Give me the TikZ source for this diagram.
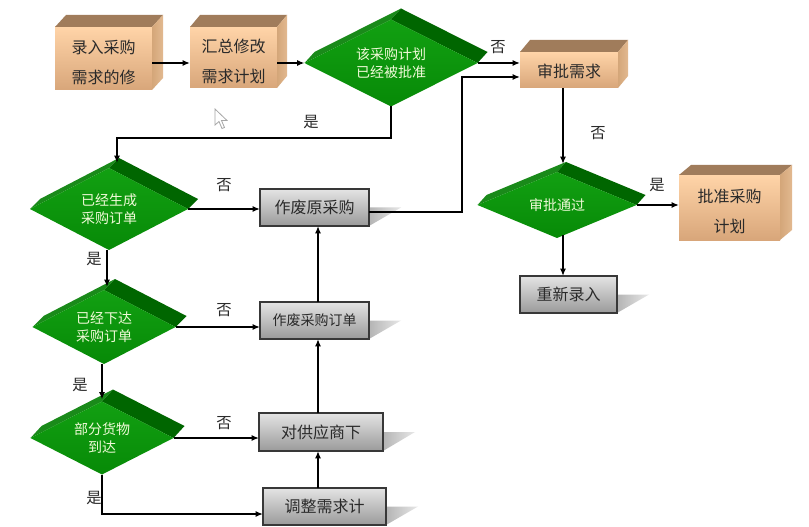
\documentclass[tikz,border=0pt]{standalone}
\usepackage{fontspec}
\setmainfont{Noto Sans CJK SC}
\usetikzlibrary{calc,arrows.meta}
\definecolor{oTopA}{HTML}{FFD4A8}
\definecolor{oBotA}{HTML}{D8A67A}
\definecolor{oRoof}{HTML}{A07C5B}
\definecolor{oSideL}{HTML}{D4A679}
\definecolor{oSideR}{HTML}{E2B990}
\definecolor{gFrontT}{HTML}{12A012}
\definecolor{gFrontB}{HTML}{078A07}
\definecolor{gLeft}{HTML}{1A8A1A}
\definecolor{gRight}{HTML}{006600}
\definecolor{dText}{HTML}{F0FAD8}
\definecolor{bxTop}{HTML}{E4E4E4}
\definecolor{bxBot}{HTML}{9A9A9A}
\definecolor{bxLine}{HTML}{383838}
\definecolor{shdA}{HTML}{B4B4B4}
\definecolor{shdB}{HTML}{E8E8E8}
\definecolor{txtDark}{HTML}{2A2A2A}
\tikzset{
  cubeface/.style={inner sep=0, outer sep=0, top color=oTopA, bottom color=oBotA, draw=none},
  cubetext/.style={inner sep=0, align=center, text=txtDark, font=\fontsize{12pt}{22pt}\selectfont},
  dtext/.style={inner sep=0, align=center, text=dText, font=\fontsize{10.5pt}{13.5pt}\selectfont},
  gbx/.style={inner sep=0, outer sep=0, top color=bxTop, bottom color=bxBot, draw=bxLine, line width=1.1pt, text=txtDark},
  lbl/.style={inner sep=0, text=txtDark, font=\fontsize{11.5pt}{12pt}\selectfont},
  arr/.style={draw=black, line width=1.1pt, -{Latex[length=5.5pt,width=4.5pt]}}
}
\newcommand{\ocube}[8]{%
  \node[cubeface, minimum width={#3*0.75pt}, minimum height={#4*0.75pt}] (#1) at (#2) {};
  \fill[oRoof] (#1.north west) -- ++(#5,#6) -- ($(#1.north east)+(#5,#6)$) -- (#1.north east) -- cycle;
  \shade[left color=oSideL, right color=oSideR] (#1.north east) -- ++(#5,#6) -- ($(#1.south east)+(#5,#6)$) -- (#1.south east) -- cycle;
  \node[cubetext] (#1t) at ($(#1.center)+(0,#7)$) {#8};
}
\newcommand{\gdia}[7]{%
  \node[inner sep=0, outer sep=0, minimum width={#3*0.75pt}, minimum height={#4*0.75pt}] (#1) at (#2) {};
  \fill[gLeft] (#1.west) -- (#1.north) -- ++(#5,#6) -- ($(#1.west)+(#5,#6)$) -- cycle;
  \fill[gRight] (#1.north) -- (#1.east) -- ++(#5,#6) -- ($(#1.north)+(#5,#6)$) -- cycle;
  \shade[top color=gFrontT, bottom color=gFrontB] (#1.west) -- (#1.north) -- (#1.east) -- (#1.south) -- cycle;
  \node[dtext] (#1t) at (#1.center) {#7};
}
\newcommand{\graybox}[6]{%
  \shade[left color=shdA, right color=shdB] ($(#2)+({#3/2},0)$) -- ++(32,0) -- ($(#2)+({#3/2},{#4/2})$) -- cycle;
  \node[gbx, minimum width={#3*0.75pt}, minimum height={#4*0.75pt}, font=\fontsize{#5}{#5}\selectfont] (#1) at (#2) {#6};
}
\begin{document}
\begin{tikzpicture}[x=0.75pt,y=-0.75pt]
\fill[white] (0,0) rectangle (809,527);
\useasboundingbox (0,0) rectangle (809,527);

% orange cubes
\ocube{b1}{103.5,58.5}{97}{63}{11}{-12}{4}{录入采购\\需求的修}
\ocube{b2}{233.5,57.5}{87}{61}{10}{-12}{4}{汇总修改\\需求计划}
\ocube{b3}{569,70}{98}{36}{10}{-12}{1.5}{审批需求}
\ocube{b4}{729.5,207.5}{101}{65}{12}{-10}{4}{批准采购\\计划}

% green diamonds
\gdia{d1}{391,63}{173}{87}{10}{-11}{该采购计划\\已经被批准}
\gdia{d2}{109,209}{158}{82}{10}{-10}{已经生成\\采购订单}
\gdia{d3}{557,205}{159}{66}{9}{-10}{审批通过}
\gdia{d4}{104,327}{143}{74}{11}{-11}{已经下达\\采购订单}
\gdia{d5}{102,438}{143}{73}{11}{-12}{部分货物\\到达}

% gray boxes
\graybox{g1}{314.5,207.5}{109}{37}{12pt}{作废原采购}
\graybox{g2}{314.5,320.5}{109}{37}{10.5pt}{作废采购订单}
\graybox{g3}{321,432}{124}{38}{12pt}{对供应商下}
\graybox{g4}{324.5,506.5}{123}{37}{12pt}{调整需求计}
\graybox{g5}{568.5,294.5}{97}{37}{12pt}{重新录入}

% helper coordinates
\coordinate (vx) at (318,0);
\coordinate (j1) at (117,138);
\coordinate (j2) at (462,212);
\coordinate (j3) at (462,77);
\coordinate (cx3) at (563,0);
\coordinate (cxl) at (107,0);
\coordinate (j5) at (0,514);

% connectors
\draw[arr] (b1.east |- d1.west) -- (b2.west |- d1.west);
\draw[arr] (b2.east |- d1.west) -- (d1.west);
\draw[arr] (d1.east) -- (d1.east -| b3.west);
\draw[arr] (d1.south) |- (j1) -- ($(d2.north)+(8,-5)$);
\draw[arr] (d2.east) -- (d2.east -| g1.west);
\draw[arr] (j2 -| g1.east) -- (j2) -- (j3) -- (j3 -| b3.west);
\draw[arr] (b3.south -| cx3) -- ($(d3.north)+(6,-8)$);
\draw[arr] (d3.east) -- (d3.east -| b4.west);
\draw[arr] ($(d3.south -| cx3)+(0,-3)$) -- (g5.north -| cx3);
\draw[arr] (d2.south -| cxl) -- ($(d4.north -| cxl)+(0,-3)$);
\draw[arr] (d4.east) -- (d4.east -| g2.west);
\draw[arr] (d4.south -| d5.north) -- ($(d5.north)+(0,-2)$);
\draw[arr] (d5.east) -- (d5.east -| g3.west);
\draw[arr] (d5.south) |- (j5 -| g4.west);
\draw[arr] (g2.north -| vx) -- (g1.south -| vx);
\draw[arr] (g3.north -| vx) -- (g2.south -| vx);
\draw[arr] (g4.north -| vx) -- (g3.south -| vx);

% labels
\node[lbl] (l1) at (498,47) {否};
\node[lbl] (l2) at (311,122) {是};
\node[lbl] (l3) at (598,133) {否};
\node[lbl] (l4) at (224,185) {否};
\node[lbl] (l5) at (657,185) {是};
\node[lbl] (l6) at (94,259) {是};
\node[lbl] (l7) at (224,310) {否};
\node[lbl] (l8) at (80,385) {是};
\node[lbl] (l9) at (224,423) {否};
\node[lbl] (l10) at (94,498) {是};

% mouse cursor
\filldraw[fill=white, draw=gray!70, line width=0.6pt] (215,109) -- (215,125) -- (219,121.5) -- (222,128.5) -- (224.5,127.5) -- (221.5,120.5) -- (227,120.5) -- cycle;
\end{tikzpicture}
\end{document}
